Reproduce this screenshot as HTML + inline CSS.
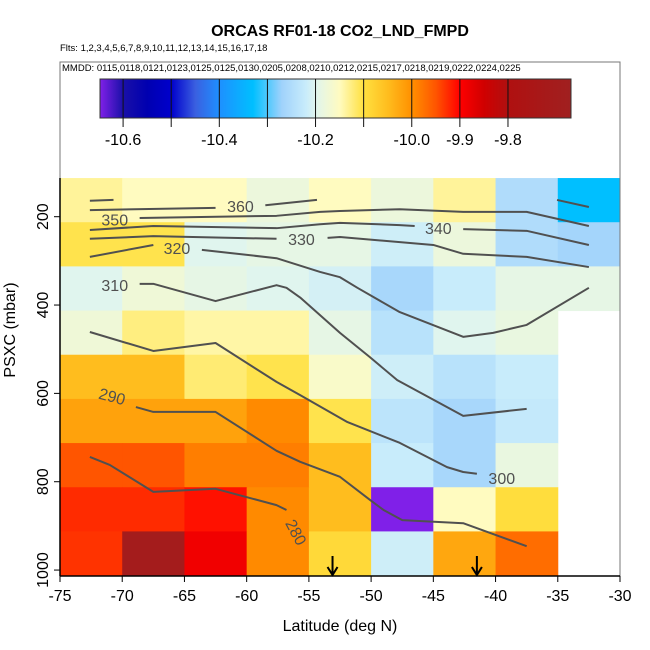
<!DOCTYPE html>
<html><head><meta charset="utf-8"><style>
body{margin:0;background:#fff}
svg{display:block;font-family:"Liberation Sans",sans-serif}
</style></head><body>
<svg id="c" width="650" height="650" viewBox="0 0 650 650"></svg>
<script>
const latEdges=[-75,-70,-65,-60,-55,-50,-45,-40,-35,-30];
const presTop=[112.5,212.5,312.5,412.5,512.5,612.5,712.5,812.5,912.5];
const cellValues=[
[-10.135,-10.15,-10.15,-10.18,-10.15,-10.18,-10.135,-10.25,-10.33],
[-10.105,-10.105,-10.2,-10.19,-10.19,-10.215,-10.18,-10.25,-10.265],
[-10.2,-10.175,-10.19,-10.2,-10.21,-10.26,-10.22,-10.19,-10.19],
[-10.175,-10.125,-10.14,-10.14,-10.19,-10.24,-10.2,-10.185,null],
[-10.05,-10.05,-10.12,-10.105,-10.16,-10.215,-10.24,-10.22,null],
[-10.02,-10.02,-10.02,-9.995,-10.105,-10.235,-10.26,-10.225,null],
[-9.95,-9.95,-9.985,-9.985,-10.05,-10.22,-10.26,-10.185,null],
[-9.925,-9.925,-9.91,-9.995,-10.05,-10.648,-10.15,-10.095,null],
[-9.93,-9.7,-9.885,-9.995,-10.09,-10.215,-10.025,-9.97,null]];
const xTicks=[-75,-70,-65,-60,-55,-50,-45,-40,-35,-30];
const yTicks=[200,400,600,800,1000];
const cbTicks=[-10.6,-10.4,-10.2,-10.0,-9.9,-9.8];
const cbLines=[-10.6,-10.5,-10.4,-10.3,-10.2,-10.1,-10.0,-9.9,-9.8];
const arrowLats=[-53.1,-41.5];
const contours=[
{lv:"360",segs:[[[-72.6,185],[-62.5,180]],[[-58.5,174],[-54.35,162]],[[-72.6,164],[-70.7,162]],[[-35.06,162],[-32.5,178]]],lab:[-60.5,176,0]},
{lv:"350",segs:[[[-68.6,203],[-57.6,198],[-54.1,189],[-52.5,187],[-47.7,183],[-42.6,189],[-37.5,189],[-32.5,221]]],lab:[-70.6,206,0]},
{lv:"340",segs:[[[-72.6,230],[-67.5,221],[-57.6,226],[-54.1,217],[-52.5,214],[-47.7,219],[-46.5,221]],[[-42.6,228],[-37.5,232],[-32.5,264]]],lab:[-44.6,226,0]},
{lv:"330",segs:[[[-72.6,250],[-67.5,244],[-57.6,250]],[[-53.5,248],[-52.5,246],[-45,264],[-42.6,284],[-37.5,291],[-32.5,314]]],lab:[-55.6,250,0]},
{lv:"320",segs:[[[-72.6,291],[-67.5,264]],[[-63.6,275],[-57.6,294],[-54.1,325],[-52.5,337],[-51.1,361],[-47.7,416],[-42.6,472],[-40.2,463],[-37.5,445],[-32.5,361]]],lab:[-65.6,271,0]},
{lv:"310",segs:[[[-68.6,352],[-67.5,352],[-62.5,391],[-57.6,355],[-56.8,361],[-55.7,383],[-52.5,463],[-50.1,518],[-47.9,570],[-42.6,651],[-37.5,635]]],lab:[-70.6,355,0]},
{lv:"300",segs:[[[-72.6,461],[-67.5,504],[-62.5,486],[-57.6,574],[-55.7,604],[-51.9,665],[-47.7,712],[-43.9,767],[-42.6,778],[-41.5,782]]],lab:[-39.5,792,0]},
{lv:"290",segs:[[[-68.9,631],[-67.5,642],[-62.5,642],[-57.6,730],[-55.7,755],[-52.5,789],[-50.1,841],[-49.0,864],[-47.5,887],[-42.6,894],[-37.5,946]]],lab:[-70.8,606,15]},
{lv:"280",segs:[[[-72.6,744],[-71.0,762],[-67.5,823],[-62.5,816],[-57.6,853],[-56.8,864]]],lab:[-56,914,62]}];
const cbStops=[[-10.648,"#8020e8"],[-10.6,"#1a10a8"],[-10.55,"#0000b0"],[-10.5,"#0000cc"],[-10.45,"#3a5fe0"],[-10.4,"#1e90ff"],[-10.33,"#00bfff"],[-10.27,"#a0d2fb"],[-10.22,"#c8ecfb"],[-10.2,"#e0f5ee"],[-10.15,"#fffbc0"],[-10.1,"#ffe040"],[-10.05,"#ffbd1e"],[-10.0,"#ff9000"],[-9.95,"#ff5500"],[-9.9,"#ff0000"],[-9.85,"#d00000"],[-9.8,"#b01010"],[-9.669,"#a02020"]];

const NS="http://www.w3.org/2000/svg",svg=document.getElementById("c");
function mk(t,a,p){const e=document.createElementNS(NS,t);for(const k in a)e.setAttribute(k,a[k]);(p||svg).appendChild(e);return e;}
const X=l=>60+(l+75)*560/45;
const Y=p=>216.7+(p-200)*0.4417;
const CB=v=>100+(v+10.648)*471/(10.648-9.669);
function hex(h){return [1,3,5].map(i=>parseInt(h.substr(i,2),16));}
function col(v){if(v<=cbStops[0][0])return cbStops[0][1];for(let i=1;i<cbStops.length;i++){if(v<=cbStops[i][0]){const a=cbStops[i-1],b=cbStops[i],t=(v-a[0])/(b[0]-a[0]),ca=hex(a[1]),cb=hex(b[1]);return "rgb("+ca.map((c,j)=>Math.round(c+(cb[j]-c)*t)).join(",")+")";}}return cbStops[cbStops.length-1][1];}

let t=mk("text",{x:340,y:36,"text-anchor":"middle","font-size":16,"font-weight":"bold"});t.textContent="ORCAS RF01-18 CO2_LND_FMPD";

t=mk("text",{x:60,y:51,"font-size":9.5});t.textContent="Flts: 1,2,3,4,5,6,7,8,9,10,11,12,13,14,15,16,17,18";

t=mk("text",{x:62,y:71,"font-size":9.5});t.textContent="MMDD: 0115,0118,0121,0123,0125,0125,0130,0205,0208,0210,0212,0215,0217,0218,0219,0222,0224,0225";


const cb=mk("g",{});
const gd=mk("linearGradient",{id:"g",x1:0,x2:1,y1:0,y2:0},mk("defs",{}));
cbStops.forEach(s=>mk("stop",{offset:(CB(s[0])-100)/471,"stop-color":s[1]},gd));
mk("rect",{x:100,y:79,width:471,height:39,fill:"url(#g)",stroke:"#333","stroke-width":1},cb);
cbLines.forEach(v=>mk("line",{x1:CB(v),x2:CB(v),y1:79,y2:127,stroke:"#111","stroke-width":1},cb));
cbTicks.forEach(v=>{const e=mk("text",{x:CB(v),y:145,"text-anchor":"middle","font-size":16},cb);e.textContent=v.toFixed(1);});

const hm=mk("g",{});
cellValues.forEach((row,r)=>row.forEach((v,c)=>{if(v===null)return;
 const e=mk("rect",{x:X(latEdges[c]),y:Y(presTop[r]),width:X(latEdges[c+1])-X(latEdges[c])+0.5,height:Y(presTop[r]+100)-Y(presTop[r])+0.5,fill:col(v)},hm);
 }));

contours.forEach(cn=>{const g=mk("g",{});
 cn.segs.forEach(s=>mk("polyline",{points:s.map(p=>X(p[0])+","+Y(p[1])).join(" "),fill:"none",stroke:"#505050","stroke-width":2,"stroke-linejoin":"round"},g));
 const lx=X(cn.lab[0]),ly=Y(cn.lab[1]);
 const e=mk("text",{x:lx,y:ly+6,"text-anchor":"middle","font-size":16,fill:"#505050",transform:"rotate("+cn.lab[2]+" "+lx+" "+ly+")"},g);e.textContent=cn.lv;});

arrowLats.forEach(l=>{const g=mk("g",{});
 const x=X(l);mk("line",{x1:x,x2:x,y1:556,y2:575,stroke:"#000","stroke-width":2},g);
 mk("polyline",{points:(x-5)+",567 "+x+",575 "+(x+5)+",567",fill:"none",stroke:"#000","stroke-width":2},g);});

const fr=mk("rect",{x:60,y:62,width:560,height:514,fill:"none",stroke:"#777","stroke-width":1});

const xa=mk("g",{});
mk("line",{x1:60,x2:620,y1:576,y2:576,stroke:"#000","stroke-width":1.5},xa);
xTicks.forEach(v=>{mk("line",{x1:X(v),x2:X(v),y1:576,y2:582,stroke:"#000"},xa);const e=mk("text",{x:X(v),y:601,"text-anchor":"middle","font-size":16},xa);e.textContent=v;});
const ya=mk("g",{});
mk("line",{x1:60,x2:60,y1:178,y2:576,stroke:"#000","stroke-width":1.5},ya);
yTicks.forEach(v=>{mk("line",{x1:54,x2:60,y1:Y(v),y2:Y(v),stroke:"#000"},ya);const e=mk("text",{x:48,y:Y(v),"text-anchor":"middle","font-size":16,transform:"rotate(-90 48 "+Y(v)+")"},ya);e.textContent=v;});
t=mk("text",{x:340,y:631,"text-anchor":"middle","font-size":16});t.textContent="Latitude (deg N)";

t=mk("text",{x:15,y:330,"text-anchor":"middle","font-size":16,transform:"rotate(-90 15 330)"});t.textContent="PSXC (mbar)";

</script>
</body></html>
